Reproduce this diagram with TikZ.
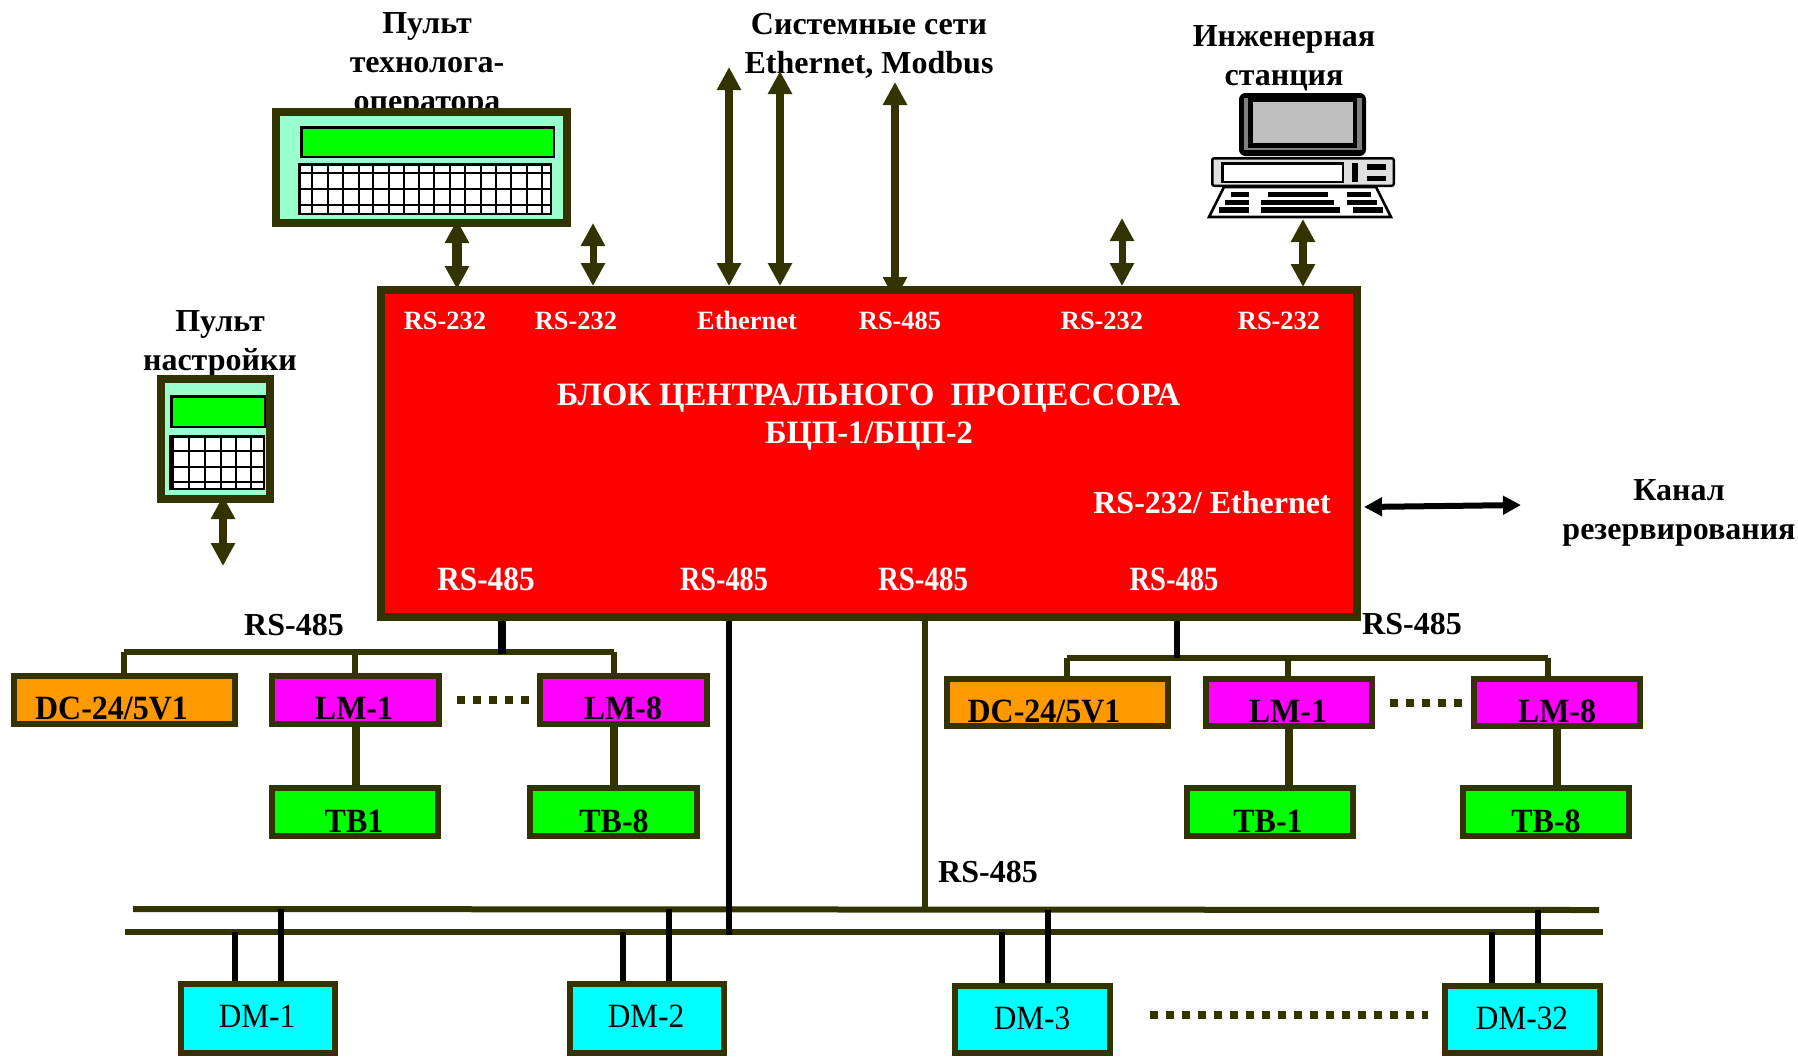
\documentclass[tikz,border=0pt]{standalone}
\usepackage{fontspec}
\usepackage{graphicx}
\setmainfont{Liberation Serif}
\usetikzlibrary{arrows.meta}
\definecolor{oliv}{HTML}{333300}
\definecolor{pale}{HTML}{99FFCC}
\definecolor{orng}{HTML}{FF9900}
\definecolor{magn}{HTML}{FF00FF}
\definecolor{grn}{HTML}{00FF00}
\definecolor{cyn}{HTML}{00FFFF}
\newcommand{\bx}[7]{% name, style, lw px, x1,y1,x2,y2
  \pgfmathsetmacro\bxcx{(#4+#6)/2}\pgfmathsetmacro\bxcy{(#5+#7)/2}
  \pgfmathsetmacro\bxw{(#6-#4-#3)*0.5}\pgfmathsetmacro\bxh{(#7-#5-#3)*0.5}
  \pgfmathsetmacro\bxl{#3*0.5}
  \node[#2,line width=\bxl pt,minimum width=\bxw pt,minimum height=\bxh pt,inner sep=0pt] (#1) at (\bxcx,\bxcy) {};}
\newcommand{\cnd}[2]{\scalebox{#1}[1]{#2}}
\tikzset{
  big/.style={font=\bfseries\fontsize{16}{19.5}\selectfont,align=center,inner sep=0pt},
  lab/.style={font=\bfseries\fontsize{16}{19.5}\selectfont,anchor=base,inner sep=0pt},
  tag/.style={font=\bfseries\fontsize{17}{19.5}\selectfont,anchor=base,inner sep=0pt},
  reg/.style={font=\fontsize{17}{19.5}\selectfont,anchor=base,inner sep=0pt},
  wsm/.style={font=\bfseries\fontsize{13.2}{16}\selectfont,anchor=base,inner sep=0pt,text=white},
  wbg/.style={font=\bfseries\fontsize{16}{19.5}\selectfont,anchor=base,inner sep=0pt,text=white},
  wtl/.style={font=\bfseries\fontsize{16.3}{19.5}\selectfont,anchor=base,inner sep=0pt,text=white},
  wtg/.style={font=\bfseries\fontsize{17}{19.5}\selectfont,anchor=base,inner sep=0pt,text=white},
  dbl/.style={draw=oliv,line width=#1,{Triangle[width=11.5pt,length=11.5pt]}-{Triangle[width=11.5pt,length=11.5pt]}},
  dbl/.default=4pt,
  blk/.style={draw=oliv,fill=#1},
  olv/.style={draw=oliv,line width=3pt},
  olw/.style={draw=oliv,line width=4pt},
  bla/.style={draw=black,line width=3pt},
  dots/.style={draw=oliv,line width=4pt,dash pattern=on 4pt off 4pt},
  key/.style={draw=black,line width=1pt},
  kbf/.style={draw=black,line width=1.3pt,fill=white},
}
\begin{document}
\begin{tikzpicture}[x=0.5pt,y=-0.5pt]
\useasboundingbox (0,0) rectangle (1798,1056);
% free ends
\coordinate (aOp) at (457,220);
\coordinate (aOpB) at (457,289);
\coordinate (aA) at (593,223);
\coordinate (aB) at (729,67);
\coordinate (aC) at (780,71);
\coordinate (aD) at (895,82);
\coordinate (aDB) at (895,300);
\coordinate (aE) at (1122,218);
\coordinate (aF) at (1303,219);
\coordinate (aS) at (223,566);
\coordinate (aST) at (223,496);
\coordinate (aR) at (1521,505);
\coordinate (aRW) at (1364,507);
\coordinate (lbW) at (124,652);
\coordinate (lbE) at (614,652);
\coordinate (lbS) at (502,654);
\coordinate (lbM) at (355,652);
\coordinate (rbW) at (1067,658);
\coordinate (rbE) at (1548,658);
\coordinate (rbS) at (1177,658);
\coordinate (rbM) at (1288,658);
\coordinate (b1W) at (133,909);
\coordinate (b1E) at (1599,910);
\coordinate (b2W) at (124.6,932);
\coordinate (b2E) at (1603,932);
\coordinate (vK) at (728.5,935);
\coordinate (vO) at (925,910);

% captions
\node[big] (tOp) at (427,65.5) {Пульт\\технолога-\\оператора};
\node[big] (tSet) at (220,343.5) {Пульт\\настройки};
\node[big] (tSys) at (869,45.5) {Системные сети\\Ethernet, Modbus};
\node[big] (tEng) at (1284,58.5) {Инженерная\\станция};
\node[big] (tKan) at (1679,513) {Канал\\резервирования};

% arrows behind the boxes
\draw[dbl=5pt] (aOp) -- (aOpB);
\draw[dbl=3.5pt] (aA) -- (aA |- 0,286);
\draw[dbl] (aB) -- (aB |- 0,286);
\draw[dbl] (aC) -- (aC |- 0,286);
\draw[dbl] (aD) -- (aDB);
\draw[dbl=3.5pt] (aE) -- (aE |- 0,286);
\draw[dbl] (aF) -- (aF |- 0,287);
\draw[dbl] (aST) -- (aS);

% operator panel
\bx{op}{blk=pale}{8}{272}{108}{571}{227}
\bx{opS}{blk=grn,draw=black}{2.5}{300}{126}{555}{158}
\bx{opK}{draw=black,fill=white}{2.5}{298}{163}{552}{215}
\foreach \i in {312,327.7,343.3,359,373.3,388.7,404,419.3,434.3,450,465.3,480.7,495.7,511,526.7,541.7}
  \draw[key] (\i,163) -- (\i,215);
\foreach \j in {173,189,205}
  \draw[key] (298,\j) -- (552,\j);

% setup panel
\bx{st}{blk=pale}{8}{157}{375}{274}{503}
\bx{stS}{blk=grn,draw=black}{2.5}{170}{395}{266}{428}
\bx{stK}{draw=black,fill=white}{2.5}{169}{435}{265}{490}
\foreach \i in {173,189,205,221,236,251}
  \draw[key] (\i,435) -- (\i,490);
\foreach \j in {451,467,482}
  \draw[key] (169,\j) -- (265,\j);

% engineering station
\bx{mon}{draw=black,fill=black,rounded corners=3pt}{1}{1239}{93}{1366}{156}
\bx{monG}{draw=none,fill=black!50}{0}{1244}{98}{1362}{150}
\bx{monB}{draw=none,fill=black}{0}{1248}{98}{1357}{148}
\bx{monS}{draw=none,fill=black!25}{0}{1253}{102}{1353}{143}
\bx{base}{draw=black,fill=black!12,rounded corners=1pt}{2.5}{1211}{157}{1395}{187}
\bx{drv}{draw=black,fill=white}{2.5}{1221}{162}{1344}{183}
\bx{slt}{draw=none,fill=black}{0}{1352}{163}{1358}{182}
\bx{btA}{draw=none,fill=black}{0}{1367}{164}{1386}{170}
\bx{btB}{draw=none,fill=black}{0}{1367}{176}{1386}{181}
\draw[kbf] (1224,187) -- (1376,187) -- (1391,217) -- (1209,217) -- cycle;
\foreach \a/\b/\c/\d in {
  1231/1249/192/197,1268/1328/192/197,1347/1371/192/197,
  1225/1249/200/205,1261/1334/200/205,1347/1377/200/205,
  1219/1249/207/213,1261/1340/207/213,1353/1383/207/213}
  \fill[black] (\a,\c) rectangle (\b,\d);

% buses
\draw[olv] (lbW) -- (lbE);
\draw[olv] (rbW) -- (rbE);
\draw[olv] (b1W) -- (b1E);
\draw[olv] (b2W) -- (b2E);

% CPU
\bx{cpu}{blk=red}{8}{377}{286}{1361}{621}

\node[wsm] (p1) at (445,329) {RS-232};
\node[wsm] (p2) at (576,329) {RS-232};
\node[wsm] (p3) at (747,329) {Ethernet};
\node[wsm] (p4) at (900,329) {RS-485};
\node[wsm] (p5) at (1102,329) {RS-232};
\node[wsm] (p6) at (1279,329) {RS-232};
\node[wtl] (ttl) at (868.5,405) {БЛОК ЦЕНТРАЛЬНОГО\ \ ПРОЦЕССОРА};
\node[wtl] (ttm) at (869,443.5) {БЦП-1/БЦП-2};
\node[wbg] (rsv) at (1212,513) {RS-232/ Ethernet};
\node[wtg] (q1) at (486,590) {\cnd{0.92}{RS-485}};
\node[wtg] (q2) at (724,590) {\cnd{0.83}{RS-485}};
\node[wtg] (q3) at (923,590) {\cnd{0.85}{RS-485}};
\node[wtg] (q4) at (1174,590) {\cnd{0.84}{RS-485}};

\draw[draw=black,line width=3pt,{Triangle[width=9pt,length=9pt]}-{Triangle[width=9pt,length=9pt]}] (aRW) -- (aR);

\node[lab] (r1) at (294,635) {RS-485};
\node[lab] (r2) at (1412,634) {RS-485};
\node[lab] (r3) at (988,882) {RS-485};

% left group
\bx{dcL}{blk=orng}{6}{11}{673}{238}{727}
\bx{lmA}{blk=magn}{6}{269}{673}{442}{727}
\bx{lmB}{blk=magn}{6}{537}{673}{710}{727}
\bx{tbA}{blk=grn}{6}{269}{785}{441}{839}
\bx{tbB}{blk=grn}{6}{527}{785}{700}{839}
% right group
\bx{dcR}{blk=orng}{6}{944}{676}{1171}{729}
\bx{lmC}{blk=magn}{6}{1202.5}{676}{1374.5}{729}
\bx{lmD}{blk=magn}{6}{1470.5}{676}{1642.5}{729}
\bx{tbC}{blk=grn}{6}{1183.5}{785}{1355.5}{839}
\bx{tbD}{blk=grn}{6}{1460}{785}{1632}{839}
% DM
\bx{dmA}{blk=cyn}{6}{178}{981}{338}{1056}
\bx{dmB}{blk=cyn}{6}{567}{981}{727}{1056}
\bx{dmC}{blk=cyn}{6}{952}{983}{1113}{1056}
\bx{dmD}{blk=cyn}{6}{1442}{983}{1603}{1056}

% stubs
\draw[draw=black,line width=4pt] (cpu.south -| lbS) -- (lbS);
\draw[draw=black,line width=3pt] (cpu.south -| rbS) -- (rbS);
\draw[olv] (lbW) -- (lbW |- dcL.north);
\draw[olv] (lbM) -- (lbM |- lmA.north);
\draw[olv] (lbE) -- (lbE |- lmB.north);
\draw[olv] (rbW) -- (rbW |- dcR.north);
\draw[olv] (rbM) -- (rbM |- lmC.north);
\draw[olv] (rbE) -- (rbE |- lmD.north);
\draw[olw] (lmA.south) -- (tbA.north -| lmA.south);
\draw[olw] (lmB.south -| tbB.north) -- (tbB.north);
\draw[olw] (lmC.south) -- (tbC.north -| lmC.south);
\draw[olw] (lmD.south) -- (tbD.north -| lmD.south);
\draw[bla] (cpu.south -| vK) -- (vK);
\draw[olv] (cpu.south -| vO) -- (vO);

\coordinate (dA1) at (235,932); \coordinate (dA2) at (281,909);
\coordinate (dB1) at (623,932); \coordinate (dB2) at (669,909);
\coordinate (dC1) at (1002,932); \coordinate (dC2) at (1048,910);
\coordinate (dD1) at (1492,932); \coordinate (dD2) at (1538,910);
\draw[bla] (dA1) -- (dA1 |- dmA.north);
\draw[bla] (dA2) -- (dA2 |- dmA.north);
\draw[bla] (dB1) -- (dB1 |- dmB.north);
\draw[bla] (dB2) -- (dB2 |- dmB.north);
\draw[bla] (dC1) -- (dC1 |- dmC.north);
\draw[bla] (dC2) -- (dC2 |- dmC.north);
\draw[bla] (dD1) -- (dD1 |- dmD.north);
\draw[bla] (dD2) -- (dD2 |- dmD.north);

% dotted runs
\coordinate (dl1) at (457,700); \coordinate (dl2) at (530,700);
\coordinate (dr1) at (1390,703); \coordinate (dr2) at (1463,703);
\coordinate (dm1) at (1150,1015); \coordinate (dm2) at (1428,1015);
\draw[dots] (dl1) -- (dl2);
\draw[dots] (dr1) -- (dr2);
\draw[dots] (dm1) -- (dm2);

% box labels
\node[tag] (tdcL) at (111.5,719) {\cnd{0.94}{DC-24/5V1}};
\node[tag] (tlmA) at (354,719) {\cnd{0.94}{LM-1}};
\node[tag] (tlmB) at (623,719) {\cnd{0.94}{LM-8}};
\node[tag] (ttbA) at (354,832) {\cnd{0.94}{TB1}};
\node[tag] (ttbB) at (614,832) {\cnd{0.94}{TB-8}};
\node[tag] (tdcR) at (1044,722) {\cnd{0.94}{DC-24/5V1}};
\node[tag] (tlmC) at (1288,722) {\cnd{0.94}{LM-1}};
\node[tag] (tlmD) at (1557,722) {\cnd{0.94}{LM-8}};
\node[tag] (ttbC) at (1268,832) {\cnd{0.94}{TB-1}};
\node[tag] (ttbD) at (1546,832) {\cnd{0.94}{TB-8}};
\node[reg] (tdmA) at (257,1027) {\cnd{0.92}{DM-1}};
\node[reg] (tdmB) at (646,1027) {\cnd{0.92}{DM-2}};
\node[reg] (tdmC) at (1032,1029) {\cnd{0.92}{DM-3}};
\node[reg] (tdmD) at (1522,1029) {\cnd{0.92}{DM-32}};
\end{tikzpicture}
\end{document}
